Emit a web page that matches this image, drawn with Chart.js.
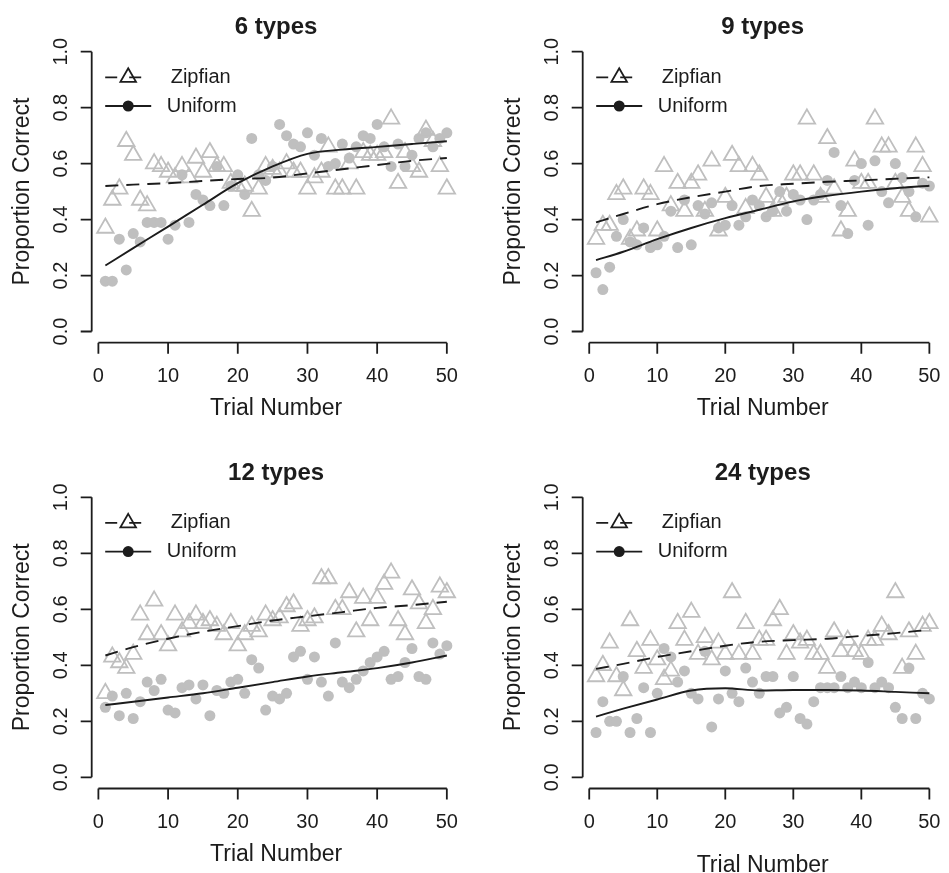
<!DOCTYPE html>
<html><head><meta charset="utf-8">
<script src="https://cdn.jsdelivr.net/npm/chart.js@4.4.0/dist/chart.umd.min.js"></script>
<style>
html,body{margin:0;padding:0;background:#fff;overflow:hidden;width:949px;height:873px;position:relative}
.p{position:absolute}
</style></head><body>
<div class="p" style="left:0;top:0"><canvas id="c1" width="474" height="436"></canvas></div>
<div class="p" style="left:474px;top:0"><canvas id="c2" width="480" height="436"></canvas></div>
<div class="p" style="left:0;top:436px"><canvas id="c3" width="474" height="437"></canvas></div>
<div class="p" style="left:474px;top:436px"><canvas id="c4" width="480" height="437"></canvas></div>
<script>
// ---------- data ----------
const trials = [1,2,3,4,5,6,7,8,9,10,11,12,13,14,15,16,17,18,19,20,21,22,23,24,25,
                26,27,28,29,30,31,32,33,34,35,36,37,38,39,40,41,42,43,44,45,46,47,48,49,50];
const fitTrials = [1,5,10,15,20,25,30,35,40,45,50];
const xTicks = [0,10,20,30,40,50];
const yTicks = [0,0.2,0.4,0.6,0.8,1.0];
const yTickLabels = ['0.0','0.2','0.4','0.6','0.8','1.0'];
const panelTitles = ['6 types','9 types','12 types','24 types'];
const seriesNames = ['Zipfian','Uniform'];
const xTitle = 'Trial Number';
const yTitle = 'Proportion Correct';

const zipf6 = [0.37,0.47,0.51,0.68,0.63,0.47,0.45,0.60,0.59,0.57,0.55,0.59,0.55,0.62,0.57,0.64,0.59,0.59,0.53,0.52,
               0.52,0.43,0.51,0.59,0.58,0.57,0.60,0.57,0.57,0.51,0.55,0.57,0.66,0.51,0.51,0.60,0.51,0.64,0.63,0.63,
               0.64,0.76,0.53,0.64,0.59,0.57,0.72,0.68,0.59,0.51];
const unif6 = [0.18,0.18,0.33,0.22,0.35,0.32,0.39,0.39,0.39,0.33,0.38,0.56,0.39,0.49,0.47,0.45,0.59,0.45,0.52,0.56,
               0.49,0.69,0.56,0.54,0.59,0.74,0.70,0.67,0.66,0.71,0.63,0.69,0.59,0.60,0.67,0.62,0.66,0.70,0.69,0.74,
               0.66,0.59,0.67,0.59,0.63,0.69,0.71,0.66,0.69,0.71];
const zipf9 = [0.33,0.38,0.38,0.49,0.51,0.33,0.36,0.51,0.49,0.36,0.59,0.45,0.53,0.43,0.53,0.56,0.43,0.61,0.36,0.48,
               0.63,0.59,0.44,0.59,0.56,0.48,0.43,0.47,0.48,0.56,0.56,0.76,0.56,0.48,0.69,0.51,0.36,0.43,0.61,0.53,
               0.53,0.76,0.66,0.66,0.53,0.48,0.43,0.66,0.59,0.41];
const unif9 = [0.21,0.15,0.23,0.34,0.40,0.32,0.31,0.37,0.30,0.31,0.34,0.43,0.30,0.47,0.31,0.45,0.42,0.46,0.37,0.38,
               0.45,0.38,0.41,0.47,0.45,0.41,0.43,0.50,0.43,0.49,0.47,0.40,0.47,0.49,0.54,0.64,0.45,0.35,0.54,0.60,
               0.38,0.61,0.50,0.46,0.60,0.55,0.50,0.41,0.53,0.52];
const zipf12 = [0.30,0.43,0.41,0.39,0.44,0.58,0.51,0.63,0.51,0.47,0.58,0.52,0.55,0.58,0.55,0.56,0.54,0.51,0.55,0.47,
                0.51,0.54,0.52,0.58,0.56,0.57,0.61,0.62,0.54,0.56,0.57,0.71,0.71,0.60,0.60,0.66,0.52,0.64,0.56,0.64,
                0.69,0.73,0.56,0.51,0.67,0.62,0.55,0.60,0.68,0.66];
const unif12 = [0.25,0.29,0.22,0.30,0.21,0.27,0.34,0.31,0.35,0.24,0.23,0.32,0.33,0.28,0.33,0.22,0.31,0.30,0.34,0.35,
                0.30,0.42,0.39,0.24,0.29,0.28,0.30,0.43,0.45,0.35,0.43,0.34,0.29,0.48,0.34,0.32,0.35,0.38,0.41,0.43,
                0.45,0.35,0.36,0.41,0.46,0.36,0.35,0.48,0.44,0.47];
const zipf24 = [0.36,0.40,0.48,0.36,0.31,0.56,0.45,0.39,0.49,0.42,0.35,0.38,0.55,0.49,0.59,0.44,0.50,0.42,0.48,0.44,
                0.66,0.44,0.55,0.44,0.49,0.49,0.56,0.60,0.44,0.51,0.48,0.49,0.44,0.44,0.39,0.52,0.45,0.49,0.45,0.44,
                0.49,0.49,0.54,0.51,0.66,0.39,0.52,0.44,0.54,0.55];
const unif24 = [0.16,0.27,0.20,0.20,0.36,0.16,0.21,0.32,0.16,0.30,0.46,0.43,0.34,0.38,0.30,0.28,0.45,0.18,0.28,0.38,
                0.30,0.27,0.39,0.34,0.30,0.36,0.36,0.23,0.25,0.36,0.21,0.19,0.27,0.32,0.32,0.32,0.36,0.32,0.34,0.32,
                0.41,0.32,0.34,0.32,0.25,0.21,0.39,0.21,0.30,0.28];

const zipf6Fit  = [0.52,0.525,0.53,0.538,0.545,0.55,0.565,0.58,0.595,0.61,0.62];
const unif6Fit  = [0.236,0.298,0.375,0.453,0.53,0.59,0.635,0.65,0.66,0.67,0.68];
const zipf9Fit  = [0.39,0.42,0.455,0.48,0.50,0.52,0.528,0.535,0.54,0.546,0.551];
const unif9Fit  = [0.255,0.285,0.33,0.37,0.405,0.435,0.465,0.485,0.50,0.512,0.521];
const zipf12Fit = [0.435,0.465,0.495,0.52,0.54,0.56,0.575,0.59,0.605,0.615,0.627];
const unif12Fit = [0.258,0.27,0.285,0.30,0.32,0.34,0.36,0.375,0.39,0.41,0.435];
const zipf24Fit = [0.387,0.405,0.43,0.45,0.47,0.484,0.49,0.495,0.505,0.515,0.527];
const unif24Fit = [0.217,0.245,0.278,0.31,0.318,0.31,0.312,0.312,0.31,0.305,0.30];

// ---------- style ----------
const GREY = '#bfbfbf';
const INK = '#1c1c1c';
const FONT = '"Liberation Sans", Arial, Helvetica, sans-serif';

function pts(xs, ys){ return xs.map((x,i)=>({x:x, y:ys[i]})); }

const rAxesPlugin = {
  id: 'rAxes',
  afterDatasetsDraw(chart, args, o){
    const ctx = chart.ctx, a = chart.chartArea;
    const xs = chart.scales.x, ys = chart.scales.y;
    ctx.save();
    ctx.strokeStyle = INK; ctx.fillStyle = INK; ctx.lineWidth = 1.8; ctx.setLineDash([]);
    // x axis
    const xb = a.bottom;
    ctx.beginPath();
    ctx.moveTo(xs.getPixelForValue(xTicks[0]), xb);
    ctx.lineTo(xs.getPixelForValue(xTicks[xTicks.length-1]), xb);
    xTicks.forEach(v=>{ const p = xs.getPixelForValue(v); ctx.moveTo(p, xb); ctx.lineTo(p, xb+11); });
    // y axis
    const yl = a.left;
    ctx.moveTo(yl, ys.getPixelForValue(yTicks[0]));
    ctx.lineTo(yl, ys.getPixelForValue(yTicks[yTicks.length-1]));
    yTicks.forEach(v=>{ const p = ys.getPixelForValue(v); ctx.moveTo(yl, p); ctx.lineTo(yl-11, p); });
    ctx.stroke();
    // tick labels
    ctx.font = '20px ' + FONT;
    ctx.textAlign = 'center'; ctx.textBaseline = 'middle';
    xTicks.forEach(v=>{ ctx.fillText(String(v), xs.getPixelForValue(v), xb + 34); });
    yTicks.forEach((v,i)=>{
      ctx.save(); ctx.translate(yl - 30, ys.getPixelForValue(v)); ctx.rotate(-Math.PI/2);
      ctx.fillText(yTickLabels[i], 0, 0); ctx.restore();
    });
    // axis titles
    ctx.font = '23px ' + FONT;
    ctx.fillText(xTitle, (a.left + a.right)/2, xb + o.xTitleOff);
    ctx.save(); ctx.translate(yl - 69, (a.top + a.bottom)/2); ctx.rotate(-Math.PI/2);
    ctx.fillText(yTitle, 0, 0); ctx.restore();
    // main title
    ctx.font = 'bold 24px ' + FONT;
    ctx.fillText(o.title, (a.left + a.right)/2, a.top - 13);
    // legend
    const top1 = ys.getPixelForValue(1.0);
    const ly1 = top1 + 25.6, ly2 = top1 + 54.3;
    const lx0 = yl + 13.5, lx1 = yl + 59.5, lxs = yl + 36.5;
    ctx.lineWidth = 1.8;
    ctx.beginPath(); ctx.setLineDash([12,12]); ctx.moveTo(lx0, ly1); ctx.lineTo(lx1, ly1); ctx.stroke();
    ctx.setLineDash([]);
    ctx.beginPath(); ctx.moveTo(lx0, ly2); ctx.lineTo(lx1, ly2); ctx.stroke();
    // triangle symbol (open)
    const r = 9;
    ctx.beginPath();
    ctx.moveTo(lxs, ly1 - r);
    ctx.lineTo(lxs + r*Math.sin(2*Math.PI/3), ly1 + r/2);
    ctx.lineTo(lxs - r*Math.sin(2*Math.PI/3), ly1 + r/2);
    ctx.closePath();
    ctx.stroke();
    ctx.beginPath(); ctx.arc(lxs, ly2, 5.5, 0, Math.PI*2); ctx.fill();
    ctx.font = '20px ' + FONT; ctx.textAlign = 'left';
    ctx.fillText(seriesNames[0], yl + 79, ly1);
    ctx.fillText(seriesNames[1], yl + 75, ly2);
    ctx.restore();
  }
};

function makePanel(id, title, zipf, unif, zipfFit, unifFit, area, xTitleOff){
  const cv = document.getElementById(id);
  const W = cv.width, H = cv.height;
  new Chart(cv, {
    type: 'scatter',
    data: { datasets: [
      { label: seriesNames[0]+' fit', data: pts(fitTrials, zipfFit), showLine: true, pointRadius: 0,
        borderColor: INK, borderWidth: 1.9, borderDash: [13,8], cubicInterpolationMode: 'monotone', order: 0 },
      { label: seriesNames[1]+' fit', data: pts(fitTrials, unifFit), showLine: true, pointRadius: 0,
        borderColor: INK, borderWidth: 1.9, cubicInterpolationMode: 'monotone', order: 1 },
      { label: seriesNames[0], data: pts(trials, zipf), pointStyle: 'triangle', pointRadius: 9.5,
        pointBorderColor: GREY, pointBackgroundColor: 'rgba(0,0,0,0)', pointBorderWidth: 1.8, order: 2 },
      { label: seriesNames[1], data: pts(trials, unif), pointStyle: 'circle', pointRadius: 5.5,
        pointBorderColor: GREY, pointBackgroundColor: GREY, pointBorderWidth: 0, order: 3 }
    ]},
    options: {
      responsive: false, animation: false, events: [],
      layout: { padding: { left: area.l, top: area.t, right: W - area.r, bottom: H - area.b } },
      scales: {
        x: { type: 'linear', min: -0.96, max: 51.96, display: false },
        y: { type: 'linear', min: -0.04, max: 1.04, display: false }
      },
      plugins: { legend: { display: false }, tooltip: { enabled: false },
                 rAxes: { title: title, xTitleOff: xTitleOff } }
    },
    plugins: [rAxesPlugin]
  });
}

makePanel('c1', panelTitles[0], zipf6, unif6, zipf6Fit, unif6Fit, {l:91.7, t:40.5, r:460.5, b:342.7}, 66);
makePanel('c2', panelTitles[1], zipf9, unif9, zipf9Fit, unif9Fit, {l:108.7, t:40.5, r:477, b:342.7}, 66);
makePanel('c3', panelTitles[2], zipf12, unif12, zipf12Fit, unif12Fit, {l:91.7, t:50.1, r:460.5, b:352.5}, 66);
makePanel('c4', panelTitles[3], zipf24, unif24, zipf24Fit, unif24Fit, {l:108.7, t:50.1, r:477, b:352.5}, 77);
</script>
</body></html>
